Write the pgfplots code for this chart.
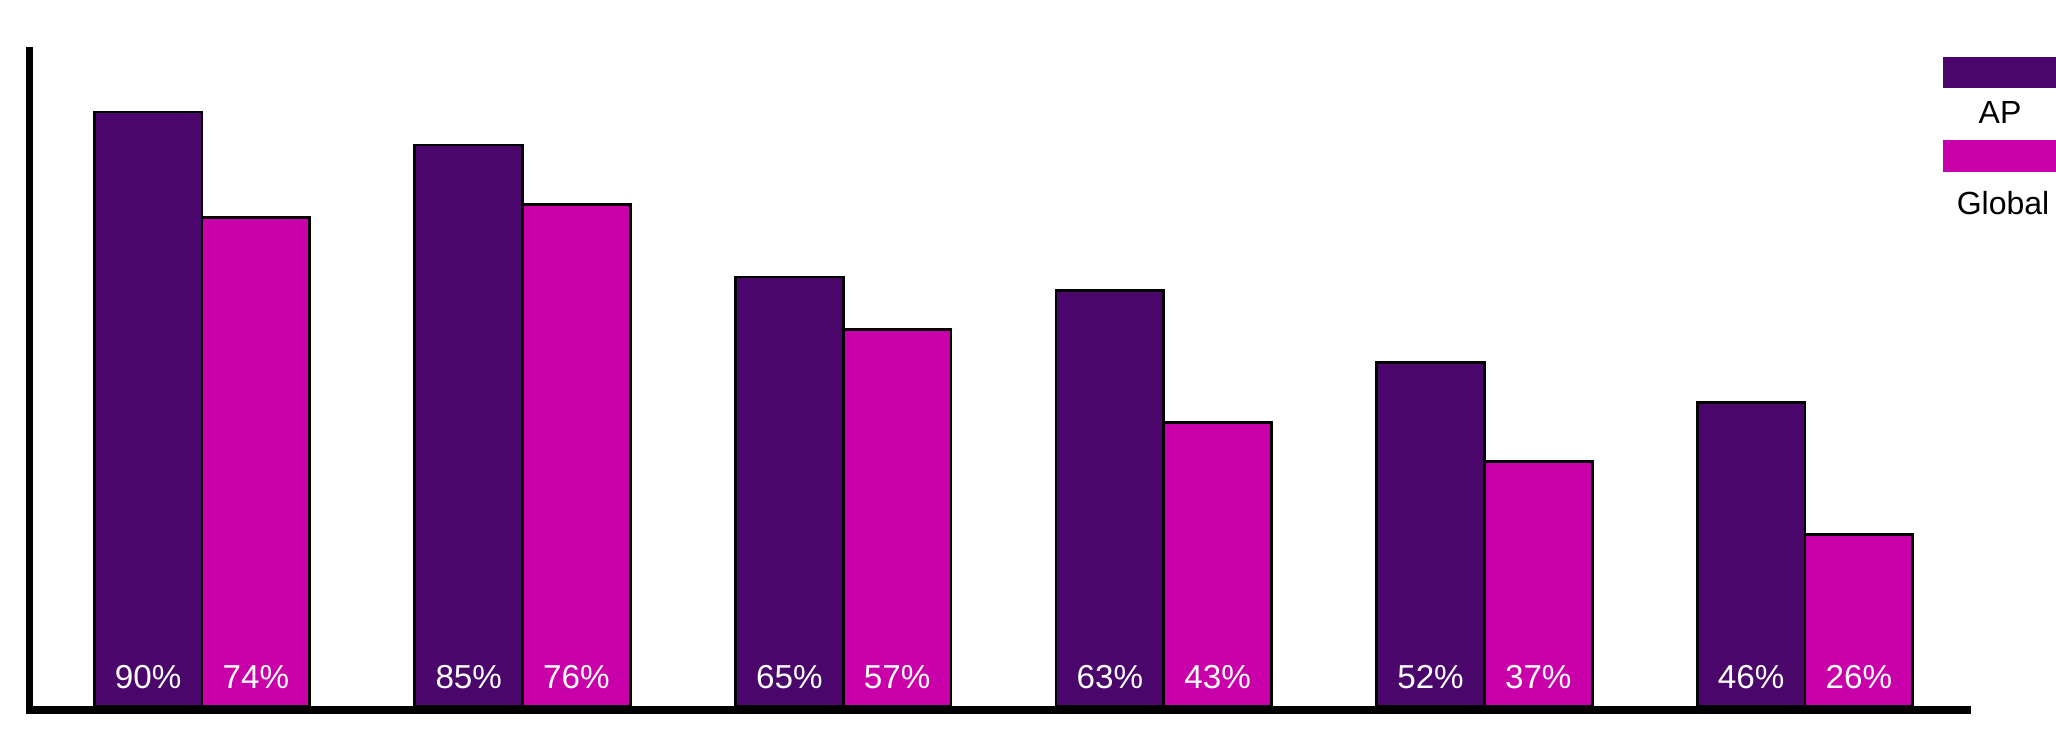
\documentclass[border=0pt]{standalone}
\usepackage{fontspec}
\setmainfont{Liberation Sans}
\usepackage{pgfplots}
\pgfplotsset{compat=1.18}
\usepackage{pgfplotstable}
\definecolor{apc}{HTML}{4A066B}
\definecolor{glc}{HTML}{C900AA}
\pgfplotstableread{
x AP Global
0 90 74
1 85 76
2 65 57
3 63 43
4 52 37
5 46 26
}\data
\begin{document}
\begin{tikzpicture}[x=1pt,y=1pt]
\useasboundingbox (0,0) rectangle (514,183);
\begin{axis}[at={(7.25pt,6.5pt)}, anchor=south west, scale only axis,
  width=485.5pt, height=165pt,
  xmin=-0.5396, xmax=5.5178, ymin=0, ymax=100,
  hide axis, clip=false,
  ybar, bar width=0.336,
  nodes near coords={\pgfmathprintnumber[assume math mode=true]{\pgfplotspointmeta}\%},
  visualization depends on={y \as \rawy},
  every node near coord/.append style={shift={(axis direction cs:0,-\rawy)}, anchor=base, yshift=4.5pt, text=white, font=\fontsize{8.3}{10}\selectfont},
  ]
\addplot[bar shift=-0.168, fill=apc, draw=black, line width=0.7pt] table[x=x,y=AP]{\data};
\addplot[bar shift=0.168, fill=glc, draw=black, line width=0.7pt] table[x=x,y=Global]{\data};
\draw[line width=2pt] (axis cs:-0.549,-0.606) -- (axis cs:5.5178,-0.606);
\draw[line width=1.75pt] (axis cs:-0.5396,-1.2) -- (axis cs:-0.5396,99.9);
\end{axis}
\fill[apc] (485.75,161) rectangle (514,168.75);
\node[font=\fontsize{8}{9.6}\selectfont] at (500,155) {AP};
\fill[glc] (485.75,140) rectangle (514,148);
\node[font=\fontsize{8}{9.6}\selectfont] at (500.75,132.25) {Global};
\end{tikzpicture}
\end{document}
